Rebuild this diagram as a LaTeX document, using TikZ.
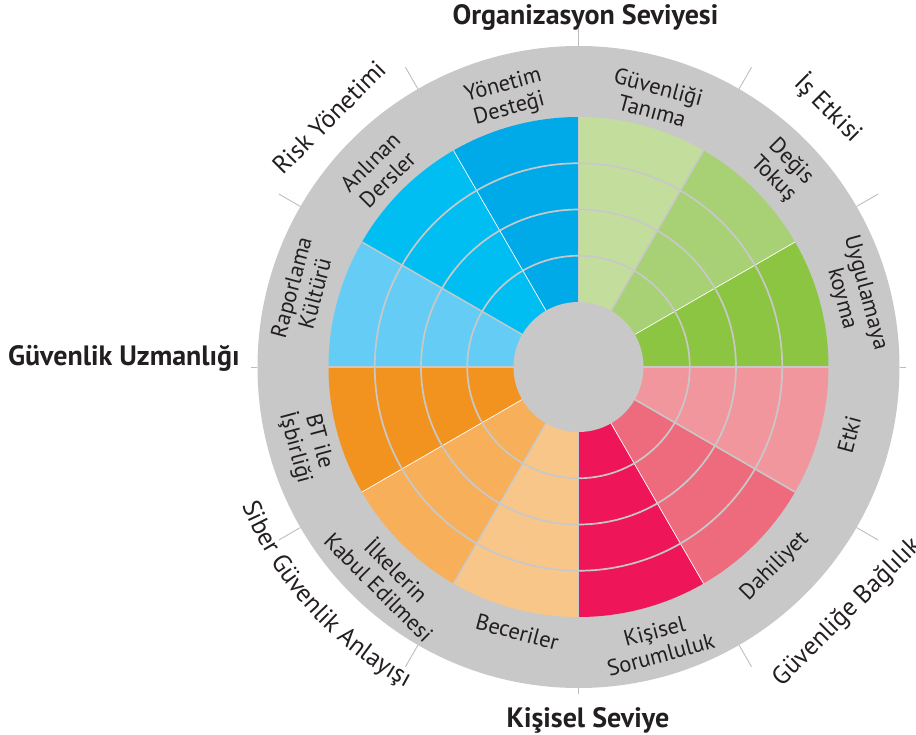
\documentclass[tikz,border=0pt]{standalone}
\usepackage{fontspec}
\setmainfont{PT Sans}
\usetikzlibrary{decorations.text}
\definecolor{ringgray}{HTML}{C8C8C9}
\definecolor{tickgray}{HTML}{BDBDBF}
\definecolor{textdark}{HTML}{231F20}
\definecolor{cYD}{HTML}{00AAE8}
\definecolor{cAD}{HTML}{00BDF2}
\definecolor{cRK}{HTML}{65CDF5}
\definecolor{cGT}{HTML}{C3DE9C}
\definecolor{cDT}{HTML}{A8D176}
\definecolor{cUK}{HTML}{8BC541}
\definecolor{cET}{HTML}{F2969D}
\definecolor{cDA}{HTML}{EE6B7D}
\definecolor{cKS}{HTML}{EE1558}
\definecolor{cBT}{HTML}{F3931F}
\definecolor{cIK}{HTML}{F7AF59}
\definecolor{cBE}{HTML}{F9C68A}
\newcommand\outerfont{\fontsize{25.5}{29}\selectfont}
\tikzset{
  seclabel/.style={font=\fontsize{22.5}{24.5}\selectfont, align=center, text=textdark, inner sep=0pt},
  outerlabel/.style={font=\outerfont, text=textdark, inner sep=0pt},
  titlelabel/.style={font=\fontsize{28}{32}\selectfont\bfseries, text=textdark, inner sep=0pt},
  tickline/.style={tickgray, line width=0.9pt},
  gridring/.style={ringgray, line width=1.7pt}
}
\begin{document}
\begin{tikzpicture}[x=1pt,y=1pt]
\useasboundingbox (-578.5,-367) rectangle (337.5,367);
% outer gray disk
\fill[ringgray] (0,0) circle[radius=321];
% sectors
\foreach \a/\c in {90/cYD,120/cAD,150/cRK,180/cBT,210/cIK,240/cBE,270/cKS,300/cDA,330/cET,0/cUK,30/cDT,60/cGT}{
  \fill[\c] (0,0) -- (\a:250) arc[start angle=\a, end angle=\a+30, radius=250] -- cycle;
}
% separators inside quadrants
\foreach \a/\col/\w in {120/white/0.7,150/ringgray/1.4,60/ringgray/1.6,30/white/0.7,330/ringgray/1.6,300/white/0.7,240/ringgray/1.4,210/white/0.7}{
  \draw[\col, line width=\w pt] (\a:60) -- (\a:250);
}
% grid rings
\foreach \r in {111.25,157.5,203.75}{
  \draw[gridring] (0,0) circle[radius=\r];
}
% quadrant boundaries
\foreach \a in {0,90,180,270}{
  \draw[ringgray, line width=1.8pt] (\a:60) -- (\a:250);
}
% inner disk
\fill[ringgray] (0,0) circle[radius=65];
% ticks
\foreach \a in {30,60,120,150,210,240,300,330}{
  \draw[tickline] (\a:321) -- (\a:346);
}
\draw[tickline] (90:321) -- (90:339);
\draw[tickline] (180:321) -- (180:327);
\draw[tickline] (0:321) -- (0:327);
\draw[tickline] (270:321) -- (270:327);
% sector labels
\node[seclabel, rotate=15]  (lYD) at (105:279) {Yönetim\\Desteği};
\node[seclabel, rotate=45]  (lAD) at (135.5:280) {Anlınan\\Dersler};
\node[seclabel, rotate=75]  (lRK) at (164.5:286) {Raporlama\\Kültürü};
\node[seclabel, rotate=-15] (lGT) at (74:279) {Güvenliği\\Tanıma};
\node[seclabel, rotate=-45] (lDT) at (44:283) {Değis\\Tokuş};
\node[seclabel, rotate=-75] (lUK) at (14.5:284) {Uygulamaya\\koyma};
\node[seclabel, rotate=75]  (lET) at (-14:279) {Etki};
\node[seclabel, rotate=45]  (lDA) at (-45.5:280) {Dahiliyet};
\node[seclabel, rotate=15]  (lKS) at (-74:287) {Kişisel\\Sorumluluk};
\node[seclabel, rotate=-15] (lBE) at (-103:272) {Beceriler};
\node[seclabel, rotate=-45] (lIK) at (228:284) {İlkelerin\\Kabul Edilmesi};
\node[seclabel, rotate=-75] (lBT) at (196:283) {BT ile\\İşbirliği};
% outer group labels
\node[outerlabel, rotate=45]  (gRY) at (135:353) {Risk Yönetimi};
\node[outerlabel, rotate=-45] (gIE) at (46:360) {İş Etkisi};
\node[outerlabel, rotate=45]  (gGB) at (-42.4:364) {Güvenliğe Bağlılık};
\path[decorate, decoration={text along path, text align=center,
  text={|\outerfont\color{textdark}|Siber Güvenlik Anlayışı}}]
  (190:364) arc[start angle=190, end angle=254, radius=364];
% titles
\node[titlelabel, anchor=base] (tOrg) at (7,342) {Organizasyon Seviyesi};
\node[titlelabel, anchor=base east] (tGU) at (-338.5,2) {Güvenlik Uzmanlığı};
\node[titlelabel, anchor=base] (tKS) at (9.5,-360) {Kişisel Seviye};
\end{tikzpicture}
\end{document}
